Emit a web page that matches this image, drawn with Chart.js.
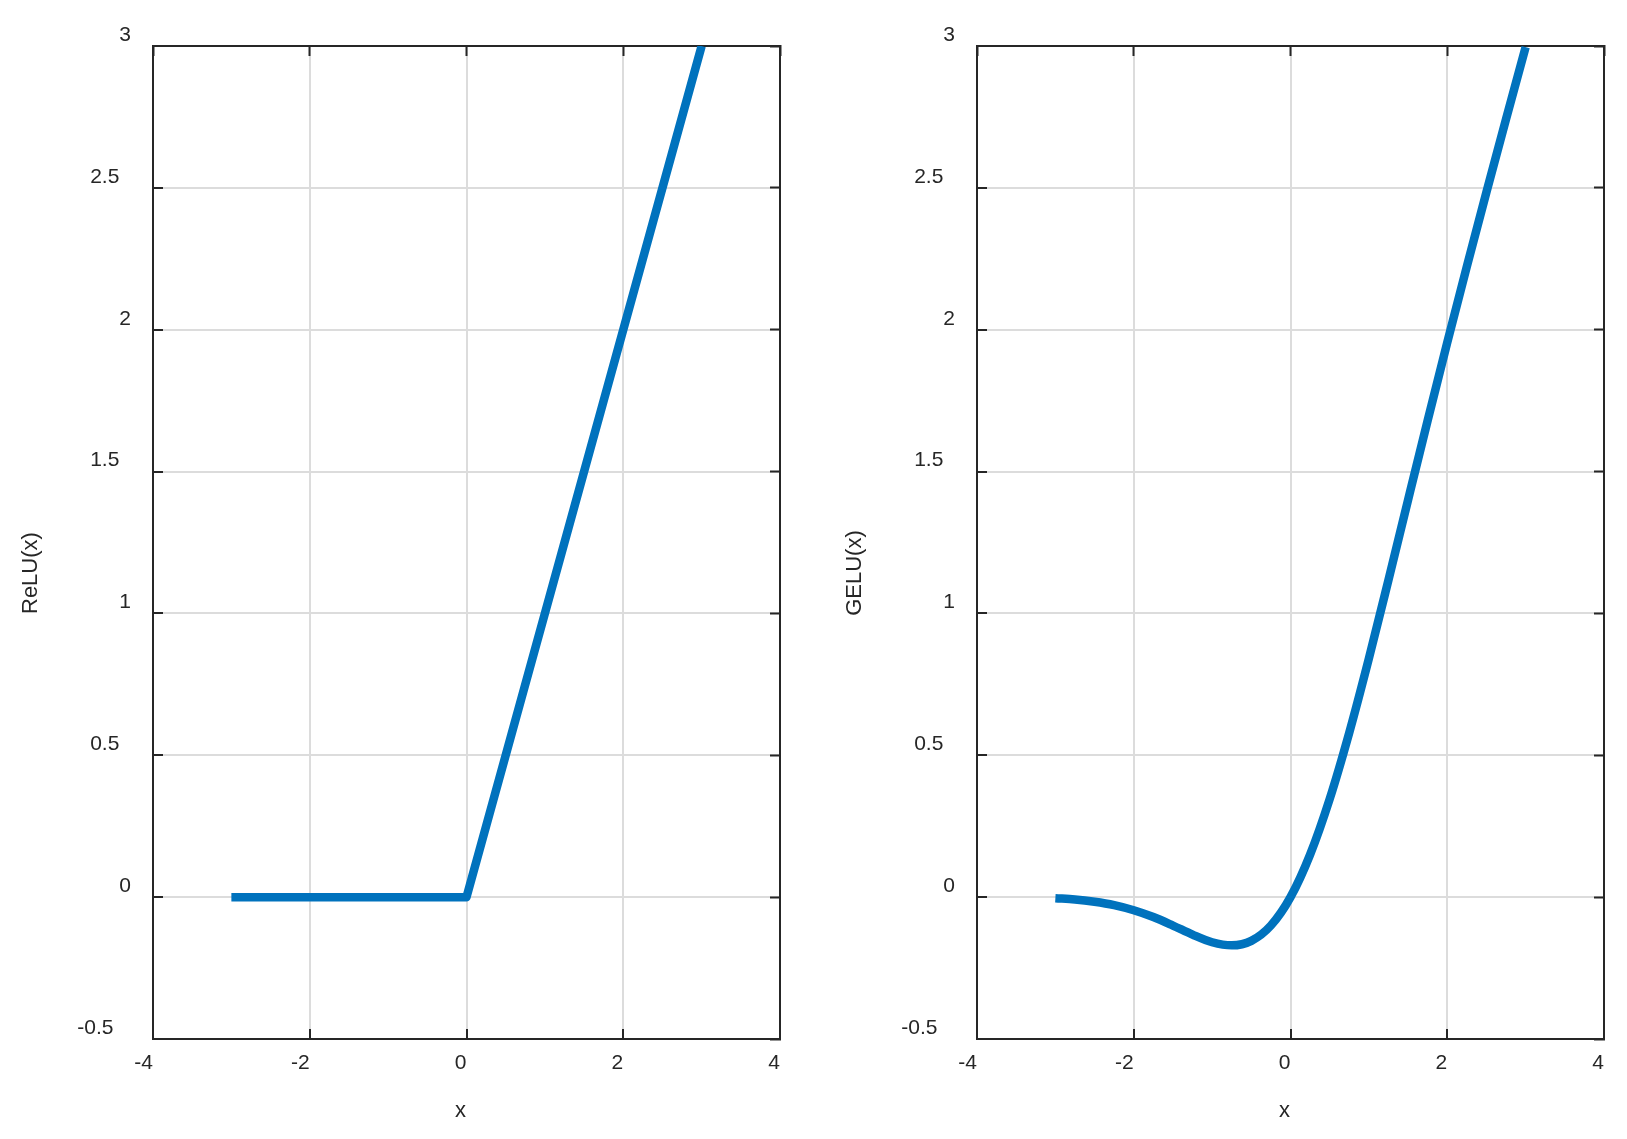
<!DOCTYPE html>
<html>
<head>
<meta charset="utf-8">
<script src="https://cdn.jsdelivr.net/npm/chart.js@4/dist/chart.umd.min.js"></script>
<style>
  html, body { margin: 0; padding: 0; background: #ffffff; }
  #wrap { position: relative; width: 1627px; height: 1139px; background: #ffffff; }
  canvas { position: absolute; top: 0; }
  #c1 { left: 0px; }
  #c2 { left: 824px; }
</style>
</head>
<body>
<div id="wrap">
  <canvas id="c1" width="803" height="1139"></canvas>
  <canvas id="c2" width="803" height="1139"></canvas>
</div>
<script>
// ---- data ----
const xTickValues = [-4, -2, 0, 2, 4];
const xTickLabels = ['-4', '-2', '0', '2', '4'];
const yTickValues = [-0.5, 0, 0.5, 1, 1.5, 2, 2.5, 3];
const yTickLabels = ['-0.5', '0', '0.5', '1', '1.5', '2', '2.5', '3'];

const reluX = [-3, 0, 3];
const reluY = [0, 0, 3];

const geluX = [-3, -2.75, -2.5, -2.25, -2, -1.75, -1.5, -1.25, -1, -0.75, -0.5, -0.25,
               0, 0.25, 0.5, 0.75, 1, 1.25, 1.5, 1.75, 2, 2.25, 2.5, 2.75, 3];
const geluY = [-0.004, -0.008, -0.016, -0.028, -0.046, -0.070, -0.100, -0.132, -0.159, -0.170, -0.154, -0.100,
               0, 0.150, 0.346, 0.580, 0.841, 1.118, 1.400, 1.680, 1.955, 2.223, 2.485, 2.742, 2.996];

const xTitle = 'x';
const reluTitle = 'ReLU(x)';
const geluTitle = 'GELU(x)';

// ---- styling ----
const FONT = '"Liberation Sans", Arial, Helvetica, sans-serif';
const TEXT = '#262626';
const AXIS = '#262626';
const GRID = '#dcdcdc';
const LINE = '#0072BD';

function yLabel(value) {
  const i = yTickValues.findIndex(v => Math.abs(v - value) < 1e-9);
  if (i < 0) return '';
  const s = yTickLabels[i];
  if (s.indexOf('.') >= 0) return s + (s.charAt(0) === '-' ? '   ' : '  ');
  return s;
}
function xLabel(value) {
  const i = xTickValues.findIndex(v => Math.abs(v - value) < 1e-9);
  return i < 0 ? '' : xTickLabels[i];
}

function makeChart(id, xs, ys, title, smooth) {
  const pts = xs.map((x, i) => ({ x: x, y: ys[i] }));
  const border = { display: true, color: AXIS, width: 2 };
  return new Chart(document.getElementById(id), {
    type: 'line',
    data: {
      datasets: [{
        data: pts,
        borderColor: LINE,
        backgroundColor: LINE,
        borderWidth: 8.5,
        borderCapStyle: 'butt',
        borderJoinStyle: 'round',
        pointRadius: 0,
        tension: 0,
        cubicInterpolationMode: smooth ? 'monotone' : 'default',
        fill: false,
        xAxisID: 'x',
        yAxisID: 'y'
      }]
    },
    options: {
      responsive: false,
      animation: false,
      events: [],
      layout: { padding: { left: 0, top: 46, right: 23, bottom: 0 } },
      plugins: { legend: { display: false }, tooltip: { enabled: false }, title: { display: false } },
      scales: {
        x: {
          type: 'linear', position: 'bottom', min: -4, max: 4,
          afterFit: s => { s.height = 100; },
          border: border,
          grid: { display: true, color: GRID, lineWidth: 2, drawTicks: true, tickLength: -10, tickColor: AXIS, tickWidth: 2 },
          ticks: { stepSize: 2, autoSkip: false, maxRotation: 0, minRotation: 0, align: 'end', padding: 22,
                   color: TEXT, font: { family: FONT, size: 21 }, callback: v => xLabel(v) },
          title: { display: true, text: xTitle + '  ', color: TEXT, font: { family: FONT, size: 22 },
                   padding: { top: 0, bottom: 15 } }
        },
        x2: {
          type: 'linear', position: 'top', min: -4, max: 4,
          afterFit: s => { s.height = 0; },
          border: border,
          grid: { display: true, drawOnChartArea: false, drawTicks: true, tickLength: -10, tickColor: AXIS, tickWidth: 2 },
          ticks: { stepSize: 2, display: false, autoSkip: false, maxRotation: 0 }
        },
        y: {
          type: 'linear', position: 'left', min: -0.5, max: 3,
          afterFit: s => { s.width = 153; },
          border: border,
          grid: { display: true, color: GRID, lineWidth: 2, drawTicks: true, tickLength: -10, tickColor: AXIS, tickWidth: 2 },
          ticks: { stepSize: 0.5, autoSkip: false, padding: 32, labelOffset: -11,
                   color: TEXT, font: { family: FONT, size: 21 }, callback: v => yLabel(v) },
          title: { display: true, text: title + '          ', color: TEXT, font: { family: FONT, size: 22 },
                   padding: { top: 18, bottom: 0 } }
        },
        y2: {
          type: 'linear', position: 'right', min: -0.5, max: 3,
          afterFit: s => { s.width = 0; },
          border: border,
          grid: { display: true, drawOnChartArea: false, drawTicks: true, tickLength: -10, tickColor: AXIS, tickWidth: 2 },
          ticks: { stepSize: 0.5, display: false, autoSkip: false }
        }
      }
    }
  });
}

makeChart('c1', reluX, reluY, reluTitle, false);
makeChart('c2', geluX, geluY, geluTitle, true);
</script>
</body>
</html>
